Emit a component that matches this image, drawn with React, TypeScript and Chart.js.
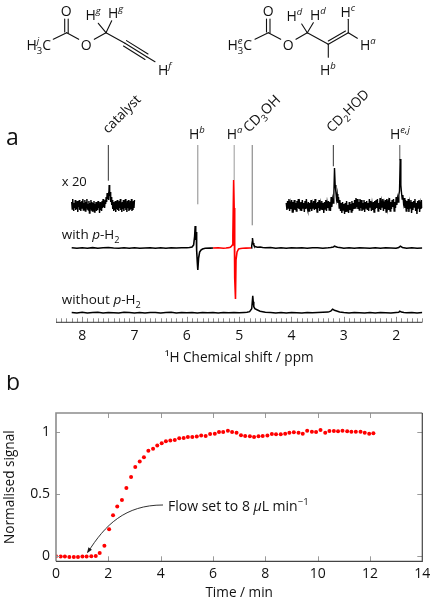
import React, { useEffect, useRef } from "react";
import { Chart, registerables } from "chart.js";

Chart.register(...registerables);

const FONT = '"Open Sans"';

// ---------- Panel b: normalised signal ----------
const flowTimes = [
  0, 0.18, 0.34, 0.51, 0.68, 0.84, 1.01, 1.17, 1.35, 1.52, 1.67, 1.85, 2.03, 2.18, 2.34, 2.52, 2.69, 2.87, 3.03, 3.2,
  3.36, 3.53, 3.71, 3.87, 4.04, 4.2, 4.37, 4.54, 4.71, 4.88, 5.04, 5.21, 5.38, 5.55, 5.72, 5.89,
  6.07, 6.23, 6.39, 6.57, 6.73, 6.9, 7.07, 7.23, 7.41, 7.57, 7.74, 7.9, 8.08, 8.25, 8.41, 8.59, 8.76, 8.92, 9.09,
  9.27, 9.43, 9.6, 9.78, 9.94, 10.11, 10.29, 10.45, 10.62, 10.78, 10.95, 11.13, 11.29, 11.46, 11.64, 11.8, 11.97, 12.13,
];
const flowSignal = [
  -0.003, -0.005, -0.005, -0.008, -0.008, -0.008, -0.005, -0.005, -0.003, 0, 0.024, 0.083, 0.214, 0.327, 0.397, 0.45,
  0.547, 0.635, 0.716, 0.759, 0.794, 0.847, 0.863, 0.888, 0.906, 0.922, 0.928, 0.933, 0.946, 0.949, 0.957, 0.957, 0.96,
  0.97, 0.965, 0.981,
  0.984, 0.997, 0.997, 1.008, 0.997, 0.992, 0.971, 0.965, 0.962, 0.957, 0.962, 0.965, 0.968, 0.981, 0.979, 0.979, 0.984,
  0.992, 0.995, 0.992, 0.984, 1.008, 1.0, 0.997, 1.013, 0.992, 1.005, 1.005, 1.003, 1.008, 1.003, 1.0, 1.0, 1.0, 0.992,
  0.984, 0.987,
];

// ---------- Panel a: spectra (intensity relative to each trace's baseline) ----------
const x20LeftStart = 8.2;
const x20LeftEnd = 7.0;
const x20Left = [
  3, -4, 6, -2, -6, 2, -3, 5, -5, 1, -4, 4, -7, 2, -2, 5, -5, 3, -6, 1,
  4, -3, 6, -5, 2, -4, 5, -6, 3, -2, 6, -4, 1, -5, 4, -8, 2, -3, 5, -5,
  3, -6, 2, -3, 4, -7, 1, -4, 3, -6, 2, -5, 4, -3, 1, -8, 3, -5, 2, -6,
  4, -3, 6, -2, 3, -3, 5, 1, 8, 3, 12, 6, 9, 5, 20, 9, 13, 3, 8, 0,
  5, -4, 3, -6, 1, -5, 4, -7, 2, -4, 5, -5, 3, -6, 4, -3, 6, -5, 2, -7,
  3, -4, 5, -6, 2, -3, 6, -5, 1, -7, 4, -3, 5, -6, 2, -5, 4, -4, 6, -6, 3, -5, 4, -3, 5,
];
const x20RightStart = 4.1;
const x20RightEnd = 1.5;
const x20Right = [
  2, -5, 4, -3, 6, -6, 1, -4, 5, -7, 3, -2, 5, -5, 2, -6, 4, -3, 6, -4,
  1, -5, 3, -6, 5, -3, 2, -7, 4, -4, 6, -2, -5, 3, -6, 2, -4, 5, -6, 1,
  -3, 4, -5, 6, -4, 2, -7, 3, -3, 5, -6, 1, -4, 4, -5, 2, -8, 3, -4, 5,
  -6, 2, -3, 4, -5, 3, -6, 8, -2, 6, 2, 10, 37, 20, 13, 6, 11, 2, 8, -3,
  5, -6, 2, -8, 3, -5, 1, -9, 2, -7, 4, -6, 0, -8, 3, -5, 1, -7, 4, -6,
  2, -4, 5, -3, 7, -2, 6, -4, 3, -5, 6, -3, 5, -6, 2, -4, 5, -7, 3, -3,
  4, -5, 2, -6, 6, -2, 4, -6, 1, -5, 3, -7, 4, -4, 5, -3, 6, -6, 2, -4,
  7, -5, 3, -2, 6, -6, 1, -4, 5, -7, 6, -3, 2, -5, 7, -6, 3, -4, 5, -2,
  6, -6, 3, -3, 8, 0, 7, 3, 10, 14, 46, 20, 12, 6, 10, 2, 7, -3, 5, -6,
  4, -4, 6, -7, 2, -3, 5, -8, 3, -5, 4, -2, 6, -6, 2, -9, 4, -3, 5, -7, 1, -4, 5, -3,
];

const withLeftPpm = [
  8.2, 8.1, 8.0, 7.9, 7.8, 7.7, 7.6, 7.5, 7.4, 7.3, 7.2, 7.1, 7.0, 6.9, 6.8, 6.7, 6.6, 6.5, 6.4, 6.3, 6.2, 6.1, 6.0,
  5.95, 5.9, 5.87, 5.85, 5.84, 5.83, 5.82, 5.815, 5.81, 5.8, 5.79, 5.775, 5.755, 5.73, 5.7, 5.65, 5.55, 5.5,
];
const withLeftVal = [
  0.2, -0.3, 0.3, -0.2, 0.4, -0.3, 0.2, 0.5, 0, -0.3, 0.2, -0.2, 0.3, -0.3, 0, 0.3, -0.2, 0.2, -0.3, 0.2, 0, 0.2, 0.3,
  0.5, 1, 3, 12, 22, 8, 16, 5, -2, -14, -22, -10, -4, -2, -1, -0.3, -0.1, 0,
];
const withRedPpm = [
  5.5, 5.4, 5.3, 5.25, 5.2, 5.17, 5.15, 5.13, 5.12, 5.105, 5.095, 5.09, 5.08, 5.07, 5.06, 5.04, 5.01, 4.97, 4.93,
  4.87, 4.8, 4.77,
];
const withRedVal = [
  0, 0.3, -0.2, 0, 0.4, 0.8, 1.5, 3, 12, 68, 40, 5, -30, -51, -12, -4, -1, -0.5, -0.3, -0.1, 0, 0,
];
const withRightPpm = [
  4.77, 4.76, 4.75, 4.745, 4.735, 4.72, 4.7, 4.65, 4.6, 4.55, 4.5, 4.4, 4.3, 4.2, 4.1, 4.0, 3.9, 3.8, 3.7, 3.6, 3.5, 3.4,
  3.3, 3.25, 3.2, 3.18, 3.12, 3.05, 3.0, 2.9, 2.8, 2.7, 2.6, 2.5, 2.4, 2.3, 2.2, 2.1, 2.0, 1.95, 1.92, 1.88, 1.8, 1.7, 1.6, 1.5,
];
const withRightVal = [
  0, 2, 6, 10, 5, 3, 1.5, 0.8, 1, 0.5, 0.2, 0.4, -0.2, 0.2, -0.3, 0.2, 0, 0.3, -0.2, 0.2, 0.3, -0.2,
  0.2, 0.5, 1, 1.8, 0.8, 0.2, -0.2, 0.2, -0.3, 0.3, 0, -0.2, 0.3, -0.3, 0.2, 0, -0.2, 0.5, 1.8, 0.5, -0.2, 0.2, -0.3, 0.1,
];
const withoutPpm = [
  8.2, 8.1, 8.0, 7.9, 7.8, 7.7, 7.6, 7.5, 7.4, 7.3, 7.2, 7.1, 7.0, 6.9, 6.8, 6.7, 6.6, 6.5, 6.4, 6.3, 6.2, 6.1, 6.0, 5.9,
  5.8, 5.7, 5.6, 5.5, 5.4, 5.3, 5.2, 5.1, 5.0, 4.9, 4.85, 4.8, 4.76, 4.74, 4.73, 4.72, 4.7, 4.66, 4.6, 4.5, 4.4, 4.3,
  4.2, 4.1, 4.0, 3.9, 3.8, 3.7, 3.6, 3.5, 3.4, 3.3, 3.25, 3.215, 3.18, 3.15, 3.08, 3.0, 2.9, 2.8, 2.7, 2.6, 2.5, 2.4,
  2.3, 2.2, 2.1, 2.0, 1.95, 1.93, 1.9, 1.85, 1.8, 1.7, 1.6, 1.5,
];
const withoutVal = [
  0.3, -0.2, 0.4, -0.3, 0.2, 0.5, -0.2, 0.3, 0, -0.3, 0.4, 0.2, -0.2, 0.3, -0.3, 0.2, 0.3, -0.2, 0.1, 0.4, -0.3, 0.2, 0, 0.3,
  -0.2, 0.2, 0, 0.3, -0.2, 0.2, 0, 0.2, -0.1, 0.2, 0.4, 1, 4, 17, 11, 6, 4, 3, 1.5, 0.5, 0.3, -0.2,
  0.2, -0.2, 0.3, 0, -0.2, 0.3, -0.1, 0.2, 0.4, 0.6, 1.5, 3.5, 2.5, 2, 0.8, 0.2, -0.2, 0.3, 0, -0.2, 0.3, -0.2,
  0.2, 0, -0.2, 0.3, 0.5, 1.5, 0.6, 0.2, 0, 0.2, -0.2, 0.1,
];

// Peak-assignment lines: ppm, lower and upper intensity on the stacked axis
const leaderPpm = [7.5, 5.79, 5.095, 4.75, 3.2, 1.93];
const leaderLow = [141.6, 118, 142.3, 97, 156, 162];
const leaderHigh = [177.3, 177.3, 177.3, 177.3, 177.3, 177.3];
const leaderColors = ["#333333", "#8a8a8a", "#999999", "#777777", "#333333", "#555555"];

const ppmMin = 1.5;
const ppmMax = 8.5;
const timeTicksMax = 14;

type Run = [string, string?];

function drawRich(ctx: CanvasRenderingContext2D, x: number, y: number, runs: Run[], size: number, angle = 0) {
  ctx.save();
  ctx.translate(x, y);
  ctx.rotate(angle);
  ctx.fillStyle = "#111111";
  ctx.textAlign = "left";
  ctx.textBaseline = "alphabetic";
  let cx = 0;
  for (const [t, k = ""] of runs) {
    const small = k.includes("sub") || k.includes("sup");
    const s = small ? size * 0.68 : size;
    const it = k.includes("i") && k !== "sub" ? "italic " : "";
    ctx.font = `${it}${s}px ${FONT}`;
    const dy = k.includes("sub") ? size * 0.26 : k.includes("sup") ? -size * 0.42 : 0;
    ctx.fillText(t, cx, dy);
    if (!k.includes("0")) cx += ctx.measureText(t).width;
  }
  ctx.restore();
}

function strokeSegments(ctx: CanvasRenderingContext2D, segs: number[][], color = "#111111", w = 1.1) {
  ctx.save();
  ctx.strokeStyle = color;
  ctx.lineWidth = w;
  ctx.lineCap = "round";
  for (const [a, b, c, d] of segs) {
    ctx.beginPath();
    ctx.moveTo(a, b);
    ctx.lineTo(c, d);
    ctx.stroke();
  }
  ctx.restore();
}

const annotateSpectra = {
  id: "annotateSpectra",
  afterDraw(chart: any) {
    const { ctx, scales } = chart;
    const x = scales.x;
    const axisY = chart.chartArea.bottom;
    // axis ticks pointing inwards
    ctx.save();
    for (const t of x.ticks) {
      const px = Math.round(x.getPixelForValue(t.value)) + 0.5;
      const major = Math.abs(t.value - Math.round(t.value)) < 1e-6;
      ctx.strokeStyle = "#8f8f8f";
      ctx.lineWidth = 1;
      ctx.beginPath();
      ctx.moveTo(px, axisY);
      ctx.lineTo(px, axisY - (major ? 5.5 : 4));
      ctx.stroke();
    }
    ctx.strokeStyle = "#333";
    ctx.lineWidth = 1;
    ctx.beginPath();
    ctx.moveTo(chart.chartArea.left, axisY);
    ctx.lineTo(chart.chartArea.right, axisY);
    ctx.stroke();
    ctx.restore();

    // Panel letter and trace captions
    drawRich(ctx, 6, 145, [["a"]], 23);
    drawRich(ctx, 61.7, 186, [["x 20"]], 13);
    drawRich(ctx, 61.7, 239, [["with "], ["p", "i"], ["-H"], ["2", "sub"]], 13.5);
    drawRich(ctx, 61.7, 304, [["without "], ["p", "i"], ["-H"], ["2", "sub"]], 13.5);

    // Peak labels
    const rot = -Math.PI / 4;
    drawRich(ctx, 108, 134, [["catalyst"]], 13.5, rot);
    drawRich(ctx, 189, 139, [["H"], ["b", "supi"]], 14);
    drawRich(ctx, 226.7, 139, [["H"], ["a", "supi"]], 14);
    drawRich(ctx, 249, 133, [["CD"], ["3", "sub"], ["OH"]], 14, rot);
    drawRich(ctx, 332, 133, [["CD"], ["2", "sub"], ["HOD"]], 13.5, rot);
    drawRich(ctx, 390, 139, [["H"], ["e,j", "supi"]], 14);

    // Propargyl acetate
    const ms = 14;
    strokeSegments(ctx, [
      [53.3, 39.3, 66.7, 32.7], [66.7, 32.7, 78.7, 39.3], [64.7, 19, 64.7, 32], [68.2, 19, 68.2, 33],
      [94.3, 39.3, 106, 32.7], [106, 32.7, 98.3, 23.3], [106, 32.7, 111.7, 20.7], [106, 32.7, 125, 43.3],
      [125, 43.3, 146.7, 56.7], [123.5, 46, 145, 59.5], [126.5, 40.6, 148, 54], [146.7, 56.7, 155, 61.7],
    ]);
    drawRich(ctx, 26.5, 50, [["H"], ["j", "supi0"], ["3", "sub"], ["C"]], ms);
    drawRich(ctx, 60.8, 16, [["O"]], ms);
    drawRich(ctx, 80.8, 50, [["O"]], ms);
    drawRich(ctx, 85.5, 20, [["H"], ["g", "supi"]], ms);
    drawRich(ctx, 108, 18, [["H"], ["g", "supi"]], ms);
    drawRich(ctx, 158, 75, [["H"], ["f", "supi"]], ms);

    // Allyl acetate
    strokeSegments(ctx, [
      [255, 39.3, 268.3, 32.7], [268.3, 32.7, 280.7, 39.3], [266.5, 19, 266.5, 32], [270, 19, 270, 33],
      [296, 39.3, 307.3, 32.7], [307.3, 32.7, 301.7, 24], [307.3, 32.7, 313.3, 22.7], [307.3, 32.7, 328.3, 44.3],
      [328.3, 44.3, 348.3, 32.7], [328.3, 41, 345.5, 31], [328.3, 44.3, 328.3, 57.3], [348.3, 32.7, 348.3, 19.3],
      [348.3, 32.7, 357.3, 38.3],
    ]);
    drawRich(ctx, 227.5, 50, [["H"], ["e", "supi0"], ["3", "sub"], ["C"]], ms);
    drawRich(ctx, 262.8, 16, [["O"]], ms);
    drawRich(ctx, 282.8, 50, [["O"]], ms);
    drawRich(ctx, 286.5, 21, [["H"], ["d", "supi"]], ms);
    drawRich(ctx, 310, 20, [["H"], ["d", "supi"]], ms);
    drawRich(ctx, 340.5, 17, [["H"], ["c", "supi"]], ms);
    drawRich(ctx, 360, 50, [["H"], ["a", "supi"]], ms);
    drawRich(ctx, 320, 75, [["H"], ["b", "supi"]], ms);
  },
};

const annotateFlow = {
  id: "annotateFlow",
  afterDraw(chart: any) {
    const { ctx, scales, chartArea: a } = chart;
    const { x, y } = scales;
    ctx.save();
    ctx.lineWidth = 1;
    ctx.strokeStyle = "#9a9a9a";
    for (const v of [2, 4, 6, 8, 10, 12]) {
      const px = Math.round(x.getPixelForValue(v)) + 0.5;
      for (const [p, q] of [[a.top, a.top + 5], [a.bottom, a.bottom - 5]]) {
        ctx.beginPath();
        ctx.moveTo(px, p);
        ctx.lineTo(px, q);
        ctx.stroke();
      }
    }
    for (const v of [0, 0.5, 1]) {
      const py = Math.round(y.getPixelForValue(v)) + 0.5;
      for (const [p, q] of [[a.left, a.left + 4], [a.right, a.right - 5]]) {
        ctx.beginPath();
        ctx.moveTo(p, py);
        ctx.lineTo(q, py);
        ctx.stroke();
      }
    }
    // Frame: grey top and left, dark bottom and right
    ctx.strokeStyle = "#8c8c8c";
    ctx.lineWidth = 1.6;
    ctx.beginPath();
    ctx.moveTo(a.left, a.bottom);
    ctx.lineTo(a.left, a.top);
    ctx.lineTo(a.right, a.top);
    ctx.stroke();
    ctx.strokeStyle = "#444";
    ctx.lineWidth = 1.2;
    ctx.beginPath();
    ctx.moveTo(a.left, a.bottom);
    ctx.lineTo(a.right, a.bottom);
    ctx.lineTo(a.right, a.top);
    ctx.stroke();

    // Annotation arrow
    const sx = x.getPixelForValue(4.09);
    const sy = y.getPixelForValue(0.41);
    const ex = x.getPixelForValue(1.22);
    const ey = y.getPixelForValue(0.03);
    ctx.strokeStyle = "#1a1a1a";
    ctx.lineWidth = 0.9;
    ctx.beginPath();
    ctx.moveTo(sx, sy);
    ctx.bezierCurveTo(sx - 38, sy, sx - 58, sy + 20, ex, ey);
    ctx.stroke();
    ctx.fillStyle = "#1a1a1a";
    ctx.beginPath();
    ctx.moveTo(ex - 1, ey + 1);
    ctx.lineTo(ex + 0.5, ey - 5);
    ctx.lineTo(ex + 4, ey - 2.5);
    ctx.closePath();
    ctx.fill();
    ctx.restore();

    drawRich(ctx, 168, 135.7, [["Flow set to 8 "], ["μ", "i"], ["L min"], ["−1", "sup"]], 14);
    drawRich(ctx, 6, 15, [["b"]], 23);
  },
};

function trace(ppm: number[], val: number[], base: number, color: string, width: number) {
  return {
    data: ppm.map((p, i) => ({ x: p, y: base + val[i] })),
    borderColor: color,
    borderWidth: width,
    pointRadius: 0,
    showLine: true,
    tension: 0,
  };
}

function evenPpm(start: number, end: number, n: number) {
  return Array.from({ length: n }, (_, i) => start + ((end - start) * i) / (n - 1));
}

export default function App() {
  const refA = useRef<HTMLCanvasElement>(null);
  const refB = useRef<HTMLCanvasElement>(null);

  useEffect(() => {
    const x20Base = 117.3;
    const withBase = 74.3;
    const withoutBase = 9.6;

    const leaders = leaderPpm.map((p, i) => ({
      data: [{ x: p, y: leaderLow[i] }, { x: p, y: leaderHigh[i] }],
      borderColor: leaderColors[i],
      borderWidth: 1,
      pointRadius: 0,
      showLine: true,
    }));

    const chartA = new Chart(refA.current!, {
      type: "scatter",
      data: {
        datasets: [
          trace(withRedPpm, withRedVal, withBase, "#ff0000", 1.6),
          trace(withLeftPpm, withLeftVal, withBase, "#000000", 1.6),
          trace(withRightPpm, withRightVal, withBase, "#000000", 1.5),
          trace(withoutPpm, withoutVal, withoutBase, "#000000", 1.5),
          trace(evenPpm(x20LeftStart, x20LeftEnd, x20Left.length), x20Left, x20Base, "#000000", 1.4),
          trace(evenPpm(x20RightStart, x20RightEnd, x20Right.length), x20Right, x20Base, "#000000", 1.4),
          ...leaders,
        ],
      } as any,
      plugins: [annotateSpectra],
      options: {
        animation: false,
        responsive: false,
        layout: { autoPadding: false, padding: { left: 56, right: 12.7, top: 140, bottom: 0 } },
        plugins: { legend: { display: false }, tooltip: { enabled: false } },
        scales: {
          x: {
            type: "linear",
            reverse: true,
            min: ppmMin,
            max: ppmMax,
            grid: { display: false, drawTicks: false },
            border: { display: false },
            afterFit: (s: any) => { s.height = 52.7; },
            ticks: {
              stepSize: 0.1,
              autoSkip: false,
              maxRotation: 0,
              includeBounds: false,
              padding: 5,
              color: "#111111",
              font: { family: FONT, size: 14 },
              callback: (v: any) => (Math.abs(v - Math.round(v)) < 1e-6 ? String(Math.round(v)) : ""),
            },
            title: {
              display: true,
              text: "¹H Chemical shift / ppm",
              color: "#111111",
              font: { family: FONT, size: 13.6 },
              padding: { top: 0, bottom: 9 },
            },
          },
          y: { type: "linear", display: false, min: 0, max: 182.3 },
        },
      } as any,
    });

    const chartB = new Chart(refB.current!, {
      type: "scatter",
      data: {
        datasets: [
          {
            data: flowTimes.map((t, i) => ({ x: t, y: flowSignal[i] })),
            backgroundColor: "#ff0000",
            borderWidth: 0,
            pointRadius: 2,
          },
        ],
      },
      plugins: [annotateFlow],
      options: {
        animation: false,
        responsive: false,
        layout: { autoPadding: false, padding: { left: 0, right: 12.7, top: 38, bottom: 0 } },
        plugins: { legend: { display: false }, tooltip: { enabled: false } },
        scales: {
          x: {
            type: "linear",
            min: 0,
            max: timeTicksMax,
            grid: { display: false, drawTicks: false },
            border: { display: false },
            afterFit: (s: any) => { s.height = 42.7; },
            ticks: {
              stepSize: 2,
              maxRotation: 0,
              padding: 4,
              color: "#111111",
              font: { family: FONT, size: 14 },
            },
            title: {
              display: true,
              text: "Time / min",
              color: "#111111",
              font: { family: FONT, size: 13.6 },
              padding: { top: 0, bottom: 3 },
            },
          },
          y: {
            type: "linear",
            min: -0.043,
            max: 1.15,
            grid: { display: false, drawTicks: false },
            border: { display: false },
            afterFit: (s: any) => { s.width = 56; },
            ticks: {
              stepSize: 0.5,
              includeBounds: false,
              padding: 6,
              color: "#111111",
              font: { family: FONT, size: 14 },
              callback: (v: any) => String(v),
            },
            title: {
              display: true,
              text: "Normalised signal",
              color: "#111111",
              font: { family: FONT, size: 13.6 },
              padding: { top: 2, bottom: 0 },
            },
          },
        },
      } as any,
    });

    return () => {
      chartA.destroy();
      chartB.destroy();
    };
  }, []);

  return (
    <div style={{ position: "absolute", left: 0, top: 0, width: 435, height: 604, background: "#fff" }}>
      <canvas ref={refA} width={435} height={375} style={{ position: "absolute", left: 0, top: 0, display: "block" }} />
      <canvas ref={refB} width={435} height={229} style={{ position: "absolute", left: 0, top: 375, display: "block" }} />
    </div>
  );
}
